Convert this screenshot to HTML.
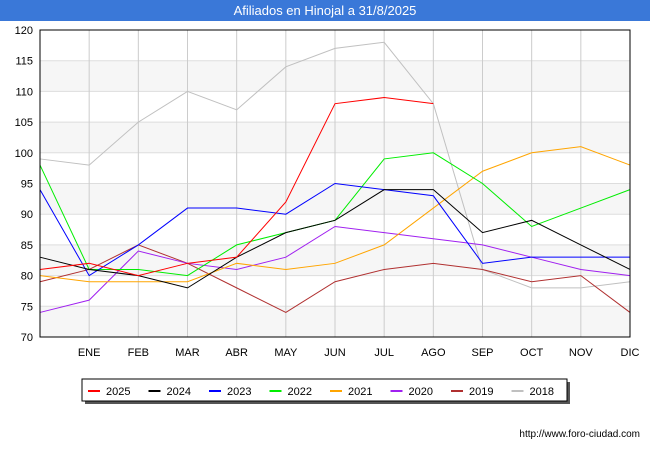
<!DOCTYPE html>
<html><head><meta charset="utf-8"><style>
body{margin:0;width:650px;height:450px;background:#fff;font-family:"Liberation Sans",sans-serif;overflow:hidden}
</style></head><body>
<svg width="650" height="450" xmlns="http://www.w3.org/2000/svg">
<rect x="0" y="0" width="650" height="21" fill="#3a78d8"/>
<text x="325" y="15" text-anchor="middle" fill="#fff" font-size="13">Afiliados en Hinojal a 31/8/2025</text>
<g id="bands"></g><g id="grid"></g><g id="series"></g>
<rect x="40" y="30" width="590" height="307" fill="none" stroke="#000" stroke-width="1"/>
<g id="ticks"></g>
<rect x="85" y="382" width="485" height="22" fill="#555"/>
<rect x="82" y="379" width="485" height="22" fill="#fff" stroke="#000"/>
<g id="legend"></g>
<text x="640" y="437" text-anchor="end" font-size="10" fill="#000">http://www.foro-ciudad.com</text>
</svg>
<script>
const months=["","ENE","FEB","MAR","ABR","MAY","JUN","JUL","AGO","SEP","OCT","NOV","DIC"];
const yTicks=[70,75,80,85,90,95,100,105,110,115,120];
const years=["2025","2024","2023","2022","2021","2020","2019","2018"];
const colors=["#ff0000","#000000","#0000ff","#00ee00","#ffa500","#a020f0","#b03030","#c0c0c0"];
const s2025=[81,82,80,82,83,92,108,109,108];
const s2024=[83,81,80,78,83,87,89,94,94,87,89,85,81];
const s2023=[94,80,85,91,91,90,95,94,93,82,83,83,83];
const s2022=[98,81,81,80,85,87,89,99,100,95,88,91,94];
const s2021=[80,79,79,79,82,81,82,85,91,97,100,101,98];
const s2020=[74,76,84,82,81,83,88,87,86,85,83,81,80];
const s2019=[79,81,85,82,78,74,79,81,82,81,79,80,74];
const s2018=[99,98,105,110,107,114,117,118,108,81,78,78,79];
const series=[s2025,s2024,s2023,s2022,s2021,s2020,s2019,s2018];
const NS="http://www.w3.org/2000/svg";
const x=i=>40+i*(590/12);
const y=v=>337-(v-70)*307/50;
function mk(t,a,p){const e=document.createElementNS(NS,t);for(const k in a)e.setAttribute(k,a[k]);document.getElementById(p).appendChild(e);return e;}
for(let i=0;i<yTicks.length-1;i++){
 if(i%2==0){const r=mk('rect',{x:40,y:y(yTicks[i+1]),width:590,height:y(yTicks[i])-y(yTicks[i+1]),fill:'#f6f6f6'},'bands');
 
 }
}
yTicks.forEach(v=>{
 const l=mk('line',{x1:40,x2:630,y1:y(v),y2:y(v),stroke:'#ddd'},'grid');
 
 
 const t=mk('text',{x:33,y:y(v)+4,'text-anchor':'end','font-size':11},'ticks');t.textContent=v;
 
 
});
months.forEach((m,i)=>{
 const l=mk('line',{x1:x(i),x2:x(i),y1:30,y2:337,stroke:'#ccc'},'grid');
 
 
 if(m){const t=mk('text',{x:x(i),y:356,'text-anchor':'middle','font-size':11},'ticks');t.textContent=m;
 
 }
});
for(let k=series.length-1;k>=0;k--){
 const p=mk('polyline',{points:series[k].map((v,i)=>x(i)+','+y(v)).join(' '),fill:'none',stroke:colors[k],'stroke-width':1},'series');
 
 
}
years.forEach((yr,k)=>{
 const lx=88+k*60.5;
 const l=mk('line',{x1:lx,x2:lx+12,y1:391,y2:391,stroke:colors[k],'stroke-width':2},'legend');
 
 
 const t=mk('text',{x:lx+18,y:395,'font-size':11},'legend');t.textContent=yr;
 
 
});
</script>
</body></html>
